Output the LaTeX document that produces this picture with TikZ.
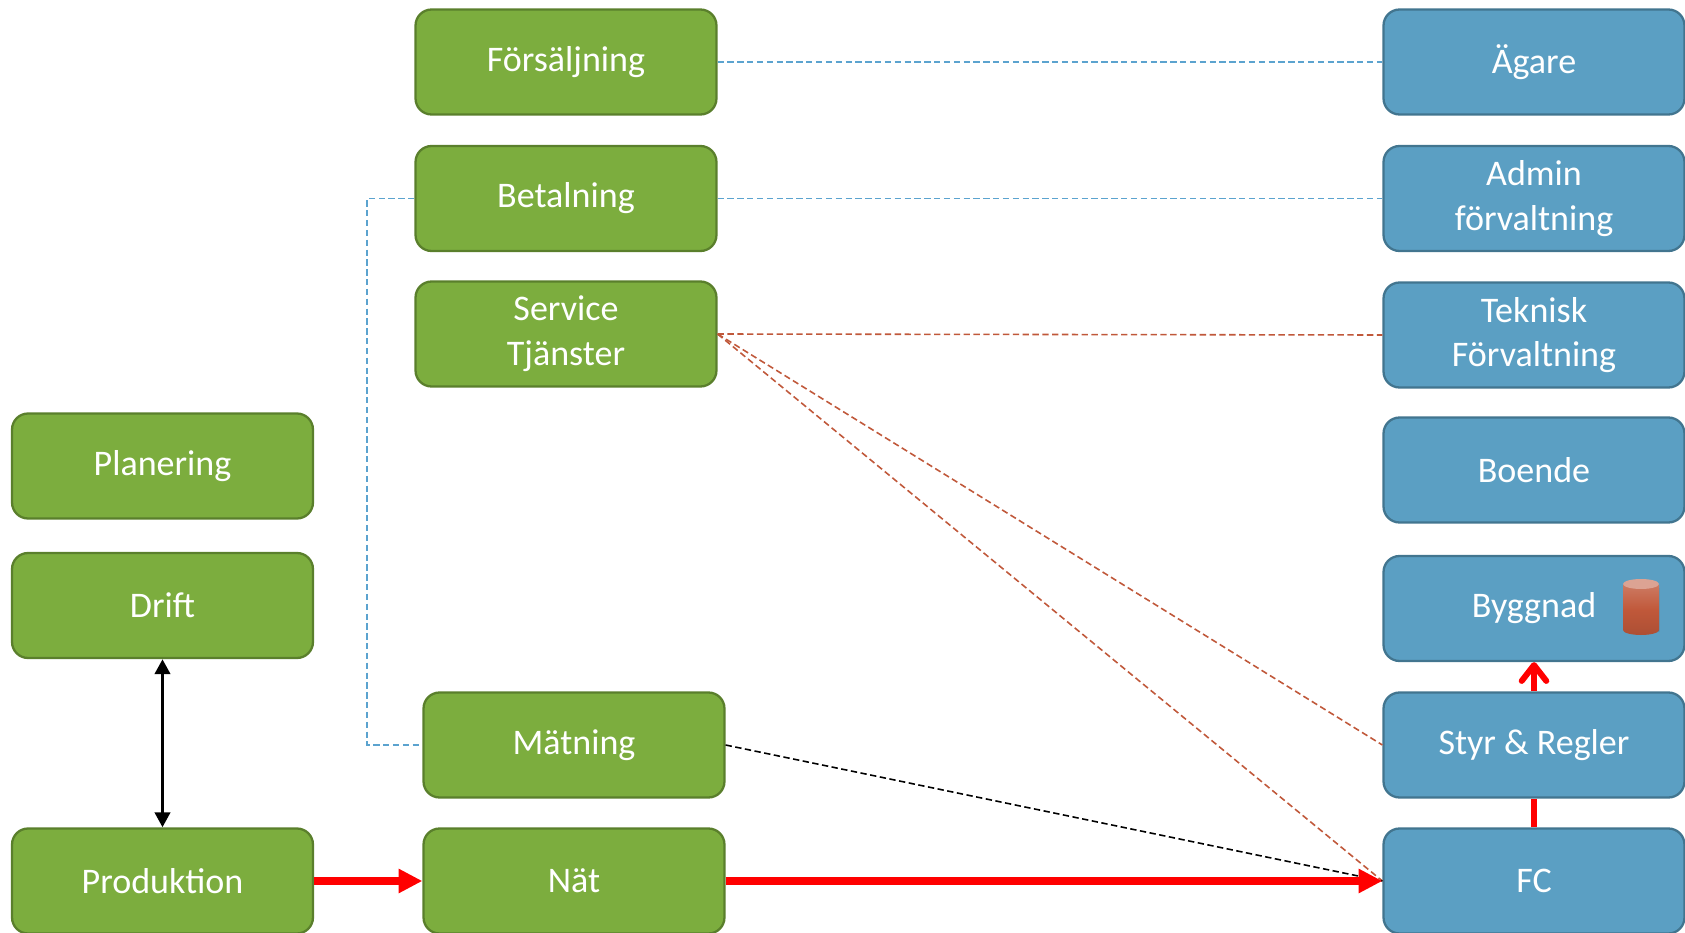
\documentclass[tikz,border=0pt]{standalone}
\usepackage{fontspec}
\setmainfont{Carlito}
\usepackage{tikz}
\usetikzlibrary{arrows.meta}
\definecolor{grpgreen}{HTML}{7CAD3E}
\definecolor{grpgreenline}{HTML}{5A7F2C}
\definecolor{grpblue}{HTML}{5B9FC3}
\definecolor{grpblueline}{HTML}{42758F}
\definecolor{linkblue}{HTML}{5BA3CF}
\definecolor{linkrust}{HTML}{C0583A}
\tikzset{
  box/.style={draw, line width=1.3pt, rounded corners=.32cm, text=white, align=center,
    minimum width=6.02cm, minimum height=2.1cm, inner sep=0pt,
    font=\fontsize{20.5}{25.5}\selectfont},
  greenbox/.style={box, fill=grpgreen, draw=grpgreenline},
  bluebox/.style={box, fill=grpblue, draw=grpblueline},
  bluelink/.style={linkblue, line width=.9pt, dash pattern=on 3.6pt off 2pt},
  rustlink/.style={linkrust, line width=.9pt, dash pattern=on 3.6pt off 2pt},
  blacklink/.style={black, line width=.9pt, dash pattern=on 3.6pt off 2pt},
  flow/.style={red, line width=4.5pt, -{Triangle[length=13.5pt,width=13pt]}}
}

\begin{document}
\begin{tikzpicture}[x=.02cm, y=-.02cm, very thick]
 \useasboundingbox (0,0) rectangle (1685,933);
% left column
\node [greenbox] (planering) at (162.5,466) {Planering};
\node [greenbox] (drift) at (162.5,605.5) {Drift};
\node [greenbox] (produktion) at (162.5,881) {Produktion};
% middle column
\node [greenbox] (forsaljning) at (566,62) {Försäljning};
\node [greenbox] (betalning) at (566,198.5) {Betalning};
\node [greenbox] (service) at (566,334) {Service\\Tjänster};
\node [greenbox] (matning) at (574,745) {Mätning};
\node [greenbox] (nat) at (574,881) {Nät};
% right column
\node [bluebox] (agare) at (1534,62) {Ägare};
\node [bluebox] (admin) at (1534,198.5) {Admin\\förvaltning};
\node [bluebox] (teknisk) at (1534,335) {Teknisk\\Förvaltning};
\node [bluebox] (boende) at (1534,470) {Boende};
\node [bluebox] (byggnad) at (1534,608.5) {Byggnad};
\node [bluebox] (styr) at (1534,745) {Styr \& Regler};
\node [bluebox] (fc) at (1534,881) {FC};
% dashed links
\draw[bluelink] (forsaljning.east) -- (agare.west);
\draw[bluelink] (betalning.east) -- (admin.west);
\draw[bluelink] (betalning.west) -- (367,198.5) -- (367,745) -- (matning.west);
\draw[rustlink] (service.east) -- (teknisk.west);
\draw[rustlink] (service.east) -- (styr.west);
\draw[rustlink] (service.east) -- (fc.west);
\draw[blacklink] (matning.east) -- (fc.west);
% flows
\draw[flow] (produktion.east) -- (nat.west);
\draw[flow] (nat.east) -- (fc.west);
\draw[red, line width=3.4pt] (fc.north) -- (styr.south);
\draw[red, line width=3.4pt, -{Straight Barb[round,length=9pt,width=14pt]}] (styr.north) -- (byggnad.south);
\draw[line width=2.2pt, {Triangle[length=8.5pt,width=8.5pt]}-{Triangle[length=8.5pt,width=8.5pt]}] (drift.south) -- (produktion.north);
% the small can
\fill[black!60!grpblue, opacity=.5] (1624,588) -- (1624,632) arc[start angle=180, end angle=360, x radius=17.5, y radius=6] -- (1659,588) -- cycle;
\shade[top color=linkrust!80!white, bottom color=linkrust!90!black, middle color=linkrust] (1623,585) -- (1623,630) arc[start angle=180, end angle=360, x radius=18, y radius=-5] -- (1659,585) -- cycle;
\fill[white!45!linkrust] (1641,584) ellipse [x radius=18, y radius=5];
\end{tikzpicture}
\end{document}
